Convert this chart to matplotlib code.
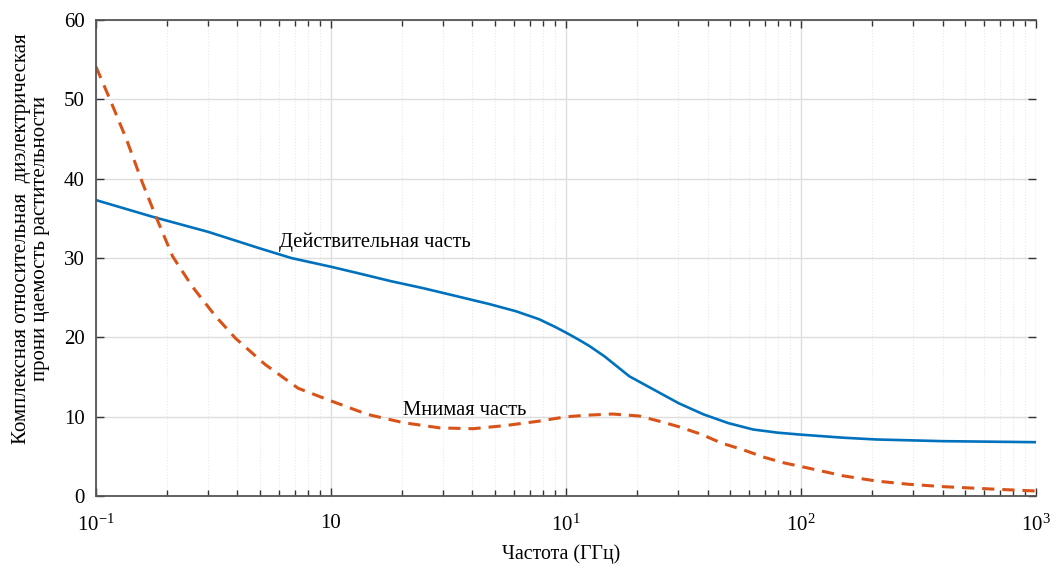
import matplotlib.pyplot as plt
import numpy as np

plt.rcParams['font.family'] = ['Liberation Serif', 'DejaVu Serif']
plt.rcParams['mathtext.fontset'] = 'custom'
plt.rcParams['mathtext.rm'] = 'Liberation Serif'
plt.rcParams['mathtext.it'] = 'Liberation Serif:italic'

# real part (solid blue)
f_re = np.array([0.1, 0.174, 0.3, 0.5, 0.678, 1.0, 1.3, 1.79, 2.47, 3.42, 4.72,
                 6.12, 7.67, 9.02, 10.3, 11.5, 12.6, 14.6, 18.6, 23.7, 30.2, 38.5,
                 49.1, 62.5, 79.6, 100, 152, 210, 402, 1000])
eps_re = np.array([37.3, 35.2, 33.3, 31.2, 30.0, 28.9, 28.1, 27.1, 26.2, 25.2, 24.2,
                   23.3, 22.3, 21.3, 20.4, 19.6, 18.9, 17.6, 15.1, 13.4, 11.7, 10.3,
                   9.2, 8.4, 8.0, 7.75, 7.36, 7.14, 6.93, 6.8])

# imaginary part (dashed orange)
f_im = np.array([0.1, 0.115, 0.135, 0.158, 0.18, 0.212, 0.257, 0.322, 0.392, 0.524,
                 0.724, 1.0, 1.43, 2.04, 2.91, 4.02, 5.55, 7.67, 10, 12.2, 15.8,
                 20.5, 24.9, 30.2, 37.6, 45.8, 57.3, 69.6, 84.5, 105, 152, 210,
                 287, 402, 646, 1000])
eps_im = np.array([54.1, 49.9, 44.9, 39.4, 35.2, 30.2, 26.4, 22.7, 19.9, 16.6,
                   13.6, 12.0, 10.3, 9.25, 8.6, 8.5, 8.9, 9.45, 10.0, 10.2, 10.35,
                   10.1, 9.45, 8.75, 7.8, 6.7, 5.8, 4.9, 4.2, 3.6, 2.55, 1.9,
                   1.5, 1.2, 0.9, 0.65])

xticks = [0.1, 1, 10, 100, 1000]
xticklabels = ['$10^{-1}$', '10', '$10^{1}$', '$10^{2}$', '$10^{3}$']
yticks = [0, 10, 20, 30, 40, 50, 60]

fig = plt.figure(figsize=(10.56, 5.69), dpi=100)
ax = fig.add_axes([0.0909, 0.128, 0.8902, 0.837])

ax.plot(f_re, eps_re, color='#0072BD', lw=1.9)
ax.plot(f_im, eps_im, color='#D95319', lw=2.2, ls=(0, (4, 2.6)))

ax.set_xscale('log')
ax.set_xlim(0.1, 1000)
ax.set_ylim(0, 60)
ax.set_xticks(xticks)
ax.set_xticklabels(xticklabels)
ax.set_yticks(yticks)

ax.grid(which='major', color='#dedede', lw=1.0)
ax.grid(which='minor', axis='x', color='#e8e8e8', lw=0.8, ls=':')
ax.set_axisbelow(True)

ax.tick_params(which='both', direction='in', top=True, right=True,
               colors='#333333', labelcolor='black', labelsize=15)
ax.tick_params(which='major', length=6, width=1)
ax.tick_params(which='minor', length=4, width=1)
ax.tick_params(axis='x', pad=13)
ax.tick_params(axis='y', pad=8)

ax.spines['right'].set_visible(False)
for s in ['left', 'bottom', 'top']:
    ax.spines[s].set_color('#555555')
    ax.spines[s].set_linewidth(1.3)

ax.text(0.6, 31.4, 'Действительная часть', fontsize=14.8)
ax.text(2.03, 10.2, 'Мнимая часть', fontsize=14.8)

ax.set_xlabel('Частота (ГГц)', fontsize=14.3)
ax.xaxis.set_label_coords(0.495, -0.1)
ax.set_ylabel('Комплексная относительная  диэлектрическая\nпрони цаемость растительности',
              fontsize=15, linespacing=1.0)
ax.yaxis.set_label_coords(-0.049, 0.54)

fig.savefig('out.png', dpi=100)
